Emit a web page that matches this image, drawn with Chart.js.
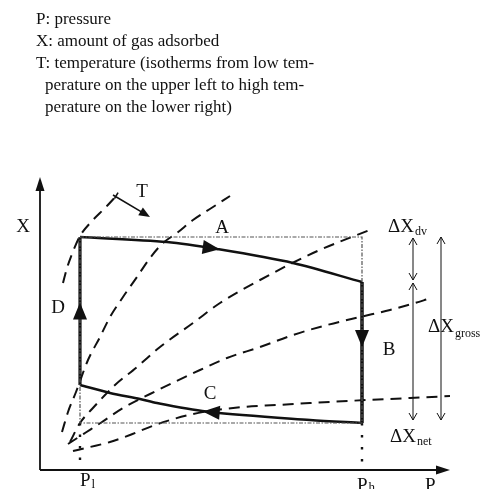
<!DOCTYPE html>
<html lang="en">
<head>
  <meta charset="UTF-8" />
  <title>Adsorption cycle</title>
  <script src="https://cdn.jsdelivr.net/npm/chart.js"></script>
  <style>
    body {
      margin: 0;
      background: #fff;
    }
    #wrap {
      position: relative;
      width: 492px;
      height: 489px;
      overflow: hidden;
    }
    canvas {
      position: absolute;
      left: 0;
      top: 0;
    }
    #notes {
      position: absolute;
      left: 36px;
      top: 8px;
      font-family: 'Liberation Serif', 'Times New Roman', serif;
      font-size: 17px;
      line-height: 22px;
      color: #111;
      white-space: nowrap;
    }
    #notes .cont {
      padding-left: 9px;
    }
  </style>
</head>
<body>
  <div id="wrap">
    <canvas id="cycle" width="492" height="489"></canvas>
    <div id="notes">
      <div>P: pressure</div>
      <div>X: amount of gas adsorbed</div>
      <div>T: temperature (isotherms from low tem-</div>
      <div class="cont">perature on the upper left to high tem-</div>
      <div class="cont">perature on the lower right)</div>
    </div>
  </div>
<script>
// pressure and loading levels of the cycle corners (arbitrary units)
const pLow = 40, pHigh = 322;
const xTop = 233, xEndA = 188, xBottom = 47, xEndC = 85;

// A runs from (Pl, top) to (Ph, xEndA); C runs back from (Ph, bottom) to (Pl, xEndC)
const pathA_P = [pLow, 127, 177, 253, pHigh];
const pathA_X = [xTop, 228, 221, 207, xEndA];
const pathC_P = [pHigh, 270, 170, 117, 100, 70, pLow];
const pathC_X = [xBottom, 50, 58, 67, 71, 77, xEndC];

// isotherms, coldest first
const iso1P = [23, 27, 32, 40, 52, 65, 78];
const iso1X = [187, 202, 216, 234, 249, 262, 276];
const iso2P = [22, 28, 36, 48, 60, 70, 83, 97, 110, 123, 137, 153, 173, 190];
const iso2X = [38, 58, 78, 110, 133, 153, 173, 193, 212, 227, 237, 250, 263, 274];
const iso3P = [30, 40, 52, 65, 75, 97, 120, 153, 180, 220, 273, 332];
const iso3X = [28, 47, 61, 75, 85, 103, 123, 147, 167, 190, 217, 241];
const iso4P = [28, 45, 62, 83, 110, 160, 187, 220, 253, 287, 320, 350, 375, 388];
const iso4X = [26, 37, 48, 62, 76, 100, 112, 123, 135, 145, 153, 160, 167, 171];
const iso5P = [33, 50, 70, 90, 115, 153, 203, 237, 270, 327, 370, 410];
const iso5X = [19, 23, 28, 35, 45, 56, 63, 65, 67, 70, 72, 74];

// where the flow arrow sits on A, B, C, D (fraction of the leg)
const arrowAt = [0.46, 0.4, 0.53, 0.5];

const INK = '#111';
const SERIF = "'Liberation Serif', 'Times New Roman', serif";

const pts = (p, x) => p.map((v, i) => ({ x: v, y: x[i] }));

const isotherm = (p, x) => ({
  data: pts(p, x),
  borderColor: INK,
  borderWidth: 2,
  borderDash: [11, 7],
  cubicInterpolationMode: 'monotone'
});

const leg = (data, width, tension) => ({
  data,
  borderColor: INK,
  borderWidth: width,
  tension,
  leg: true
});

function solidHead(ctx, tx, ty, ang, len, half) {
  const bx = tx - Math.cos(ang) * len, by = ty - Math.sin(ang) * len;
  const nx = -Math.sin(ang) * half, ny = Math.cos(ang) * half;
  ctx.beginPath();
  ctx.moveTo(tx, ty);
  ctx.lineTo(bx + nx, by + ny);
  ctx.lineTo(bx - nx, by - ny);
  ctx.closePath();
  ctx.fill();
}

function openHead(ctx, tx, ty, dir) {
  // dir -1 points up, +1 points down
  ctx.beginPath();
  ctx.moveTo(tx - 4, ty - dir * 7);
  ctx.lineTo(tx, ty);
  ctx.lineTo(tx + 4, ty - dir * 7);
  ctx.stroke();
}

function alongPath(points, t) {
  let total = 0;
  const lens = [];
  for (let i = 1; i < points.length; i++) {
    const l = Math.hypot(points[i].x - points[i - 1].x, points[i].y - points[i - 1].y);
    lens.push(l);
    total += l;
  }
  let want = total * t;
  for (let i = 1; i < points.length; i++) {
    const a = points[i - 1], b = points[i], l = lens[i - 1];
    if (want <= l || i === points.length - 1) {
      const f = l ? want / l : 0;
      return { x: a.x + (b.x - a.x) * f, y: a.y + (b.y - a.y) * f, ang: Math.atan2(b.y - a.y, b.x - a.x) };
    }
    want -= l;
  }
}

function subLabel(ctx, main, sub, x, y, size, subSize, drop) {
  ctx.textAlign = 'left';
  ctx.font = size + 'px ' + SERIF;
  ctx.fillText(main, x, y);
  const w = ctx.measureText(main).width;
  ctx.font = subSize + 'px ' + SERIF;
  ctx.fillText(sub, x + w + 1, y + drop);
}

const diagramMarks = {
  id: 'diagramMarks',
  afterDatasetsDraw(chart) {
    const { ctx, chartArea: a, scales } = chart;
    const px = v => scales.x.getPixelForValue(v);
    const py = v => scales.y.getPixelForValue(v);
    ctx.save();
    ctx.fillStyle = INK;
    ctx.strokeStyle = INK;

    // axes with arrowheads
    ctx.lineWidth = 1.8;
    ctx.beginPath();
    ctx.moveTo(a.left, a.bottom);
    ctx.lineTo(a.left, a.top + 10);
    ctx.moveTo(a.left, a.bottom);
    ctx.lineTo(a.right - 10, a.bottom);
    ctx.stroke();
    solidHead(ctx, a.left, a.top, -Math.PI / 2, 14, 4.5);
    solidHead(ctx, a.right, a.bottom, 0, 14, 4.5);

    // flow direction on each leg of the cycle
    chart.data.datasets.forEach((ds, i) => {
      if (!ds.leg) return;
      const k = ds.legIndex;
      const p = alongPath(chart.getDatasetMeta(i).data, arrowAt[k]);
      solidHead(ctx, p.x + Math.cos(p.ang) * 8.5, p.y + Math.sin(p.ang) * 8.5, p.ang, 17, 7);
    });

    // rising temperature arrow
    ctx.lineWidth = 1.6;
    const t0 = { x: 113, y: 195 }, t1 = { x: 150, y: 217 };
    const tAng = Math.atan2(t1.y - t0.y, t1.x - t0.x);
    ctx.beginPath();
    ctx.moveTo(t0.x, t0.y);
    ctx.lineTo(t1.x - Math.cos(tAng) * 8, t1.y - Math.sin(tAng) * 8);
    ctx.moveTo(t0.x + 4 * Math.sin(tAng) + 3, t0.y - 4 * Math.cos(tAng) + 1);
    ctx.lineTo(t0.x - 3 * Math.sin(tAng) + 3, t0.y + 3 * Math.cos(tAng) + 1);
    ctx.stroke();
    solidHead(ctx, t1.x, t1.y, tAng, 11, 4.5);

    // loading spans: dv, net and gross
    ctx.lineWidth = 1;
    const dvX = px(373), grossX = px(401);
    const yTop = py(xTop), yMid = py(xEndA), yBot = py(xBottom);
    ctx.beginPath();
    ctx.moveTo(dvX, yTop + 1);
    ctx.lineTo(dvX, yMid - 2);
    ctx.moveTo(dvX, yMid + 1);
    ctx.lineTo(dvX, yBot - 3);
    ctx.moveTo(grossX, yTop);
    ctx.lineTo(grossX, yBot - 3);
    ctx.stroke();
    openHead(ctx, dvX, yTop + 1, -1);
    openHead(ctx, dvX, yMid - 2, 1);
    openHead(ctx, dvX, yMid + 1, -1);
    openHead(ctx, dvX, yBot - 3, 1);
    openHead(ctx, grossX, yTop, -1);
    openHead(ctx, grossX, yBot - 3, 1);

    // letters
    ctx.font = '19px ' + SERIF;
    ctx.textAlign = 'center';
    ctx.textBaseline = 'alphabetic';
    [['X', 23, 232], ['T', 142, 197], ['A', 222, 233], ['D', 58, 313], ['C', 210, 399], ['B', 389, 355]]
      .forEach(([s, x, y]) => ctx.fillText(s, x, y));

    subLabel(ctx, 'ΔX', 'dv', 388, 232, 19, 12, 3);
    subLabel(ctx, 'ΔX', 'gross', 428, 332, 19, 12, 5);
    subLabel(ctx, 'ΔX', 'net', 390, 442, 19, 12, 3);

    // pressure marks under the axis
    subLabel(ctx, 'P', 'l', px(pLow), 486, 19, 13, 2);
    subLabel(ctx, 'P', 'h', px(pHigh) - 5, 491, 19, 13, 0);
    ctx.font = '19px ' + SERIF;
    ctx.fillText('P', 425, 491);
    ctx.restore();
  }
};

const legA = leg(pts(pathA_P, pathA_X), 2.5, 0.3);
legA.legIndex = 0;
const legB = leg([{ x: pHigh, y: xEndA }, { x: pHigh, y: xBottom }], 3.5, 0);
legB.legIndex = 1;
const legC = leg(pts(pathC_P, pathC_X), 2.5, 0.3);
legC.legIndex = 2;
const legD = leg([{ x: pLow, y: xEndC }, { x: pLow, y: xTop }], 3.2, 0);
legD.legIndex = 3;

new Chart(document.getElementById('cycle'), {
  type: 'line',
  data: {
    datasets: [
      {
        // bounding box of the cycle
        data: [
          { x: pLow, y: xTop }, { x: pHigh, y: xTop }, { x: pHigh, y: xBottom },
          { x: pLow, y: xBottom }, { x: pLow, y: xTop }
        ],
        borderColor: '#555',
        borderWidth: 1.2,
        borderDash: [4, 1.5, 1.5, 1.5]
      },
      {
        data: [{ x: pLow, y: xBottom }, { x: pLow, y: 0 }],
        borderColor: INK,
        borderWidth: 2.4,
        borderDash: [2.5, 9]
      },
      {
        data: [{ x: pHigh, y: xBottom }, { x: pHigh, y: 0 }],
        borderColor: INK,
        borderWidth: 2.4,
        borderDash: [2.5, 9.5]
      },
      isotherm(iso1P, iso1X),
      isotherm(iso2P, iso2X),
      isotherm(iso3P, iso3X),
      isotherm(iso4P, iso4X),
      isotherm(iso5P, iso5X),
      legA, legB, legC, legD
    ]
  },
  options: {
    responsive: false,
    animation: false,
    devicePixelRatio: 1,
    layout: { padding: { left: 40, right: 42, top: 177, bottom: 19 } },
    elements: { point: { radius: 0 }, line: { fill: false, borderCapStyle: 'butt' } },
    datasets: { line: { clip: false } },
    scales: {
      x: { type: 'linear', min: 0, max: 410, display: false },
      y: { type: 'linear', min: 0, max: 293, display: false }
    },
    plugins: {
      legend: { display: false },
      tooltip: { enabled: false }
    }
  },
  plugins: [diagramMarks]
});
</script>
</body>
</html>
